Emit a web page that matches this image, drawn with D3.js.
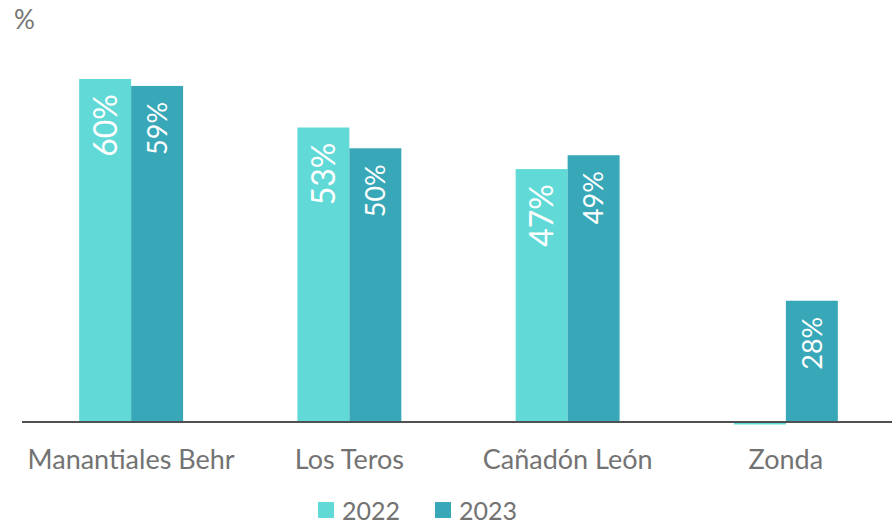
<!DOCTYPE html>
<html>
<head>
<meta charset="utf-8">
<script src="https://cdn.jsdelivr.net/npm/d3@7"></script>
<style>
  body { margin: 0; background: #fff; }
  text { font-family: Lato, "Open Sans", sans-serif; }
</style>
</head>
<body>
<div id="chart"></div>
<script>
// Data
const categories = ["Manantiales Behr", "Los Teros", "Cañadón León", "Zonda"];
const series = ["2022", "2023"];
const values2022 = [60, 53, 47, 0];
const values2023 = [59, 50, 49, 28];
const colors = ["#61d9d7", "#38a8b8"];

const width = 892, height = 525;
const axisMin = 10.5, axisMax = 60; // the value axis doesn't start at zero

const svg = d3.select("#chart").append("svg")
    .attr("width", width)
    .attr("height", height);

const x = d3.scaleBand()
    .domain(categories)
    .range([22, 895]);

const xInner = d3.scaleBand()
    .domain(series)
    .range([0, x.bandwidth()])
    .paddingOuter(1.1);

const y = d3.scaleLinear()
    .domain([axisMin, axisMax])
    .range([422, 79]);

const rows = categories.map((c, i) => ({
    cat: c,
    vals: [values2022[i], values2023[i]]
}));

const groups = svg.selectAll("g.cat")
    .data(rows)
    .join("g")
    .attr("class", "cat")
    .attr("transform", d => `translate(${x(d.cat)},0)`);

const bars = groups.selectAll("g.bar")
    .data(d => d.vals.map((v, j) => ({ v, s: series[j], j })))
    .join("g")
    .attr("class", "bar");

bars.append("rect")
    .attr("x", d => xInner(d.s))
    .attr("width", xInner.bandwidth())
    .attr("y", d => d.v > axisMin ? y(d.v) : y(axisMin))
    .attr("height", d => d.v > axisMin ? y(axisMin) - y(d.v) : 2.5) // below the axis min: thin sliver
    .attr("fill", d => colors[d.j]);

// value labels, rotated inside the bars
bars.filter(d => d.v > axisMin)
    .append("text")
    .attr("transform", d => `translate(${xInner(d.s) + xInner.bandwidth() / 2},${y(d.v) + (d.j === 0 ? 15 : 16)}) rotate(-90)`)
    .attr("text-anchor", "end")
    .attr("dy", "0.36em")
    .attr("fill", "#fff")
    .style("font-size", d => d.j === 0 ? "32px" : "27px")
    .text(d => d.v + "%");

// axis line
svg.append("line")
    .attr("x1", 22).attr("x2", 892)
    .attr("y1", y(axisMin)).attr("y2", y(axisMin))
    .attr("stroke", "#505050")
    .attr("stroke-width", 2);

// category labels
svg.selectAll("text.cat")
    .data(categories)
    .join("text")
    .attr("class", "cat")
    .attr("x", d => x(d) + x.bandwidth() / 2)
    .attr("y", 469)
    .attr("text-anchor", "middle")
    .attr("fill", "#737373")
    .style("font-size", "27px")
    .text(d => d);

// unit label
svg.append("text")
    .attr("x", 14).attr("y", 29)
    .attr("fill", "#737373")
    .style("font-size", "26px")
    .text("%");

// legend
const legend = svg.selectAll("g.leg")
    .data(series)
    .join("g")
    .attr("class", "leg")
    .attr("transform", (d, i) => `translate(${318 + i * 117},502)`);

legend.append("rect")
    .attr("width", 16).attr("height", 16)
    .attr("fill", (d, i) => colors[i]);

legend.append("text")
    .attr("x", 24).attr("y", 18)
    .attr("fill", "#737373")
    .style("font-size", "25px")
    .text(d => d);
</script>
</body>
</html>
